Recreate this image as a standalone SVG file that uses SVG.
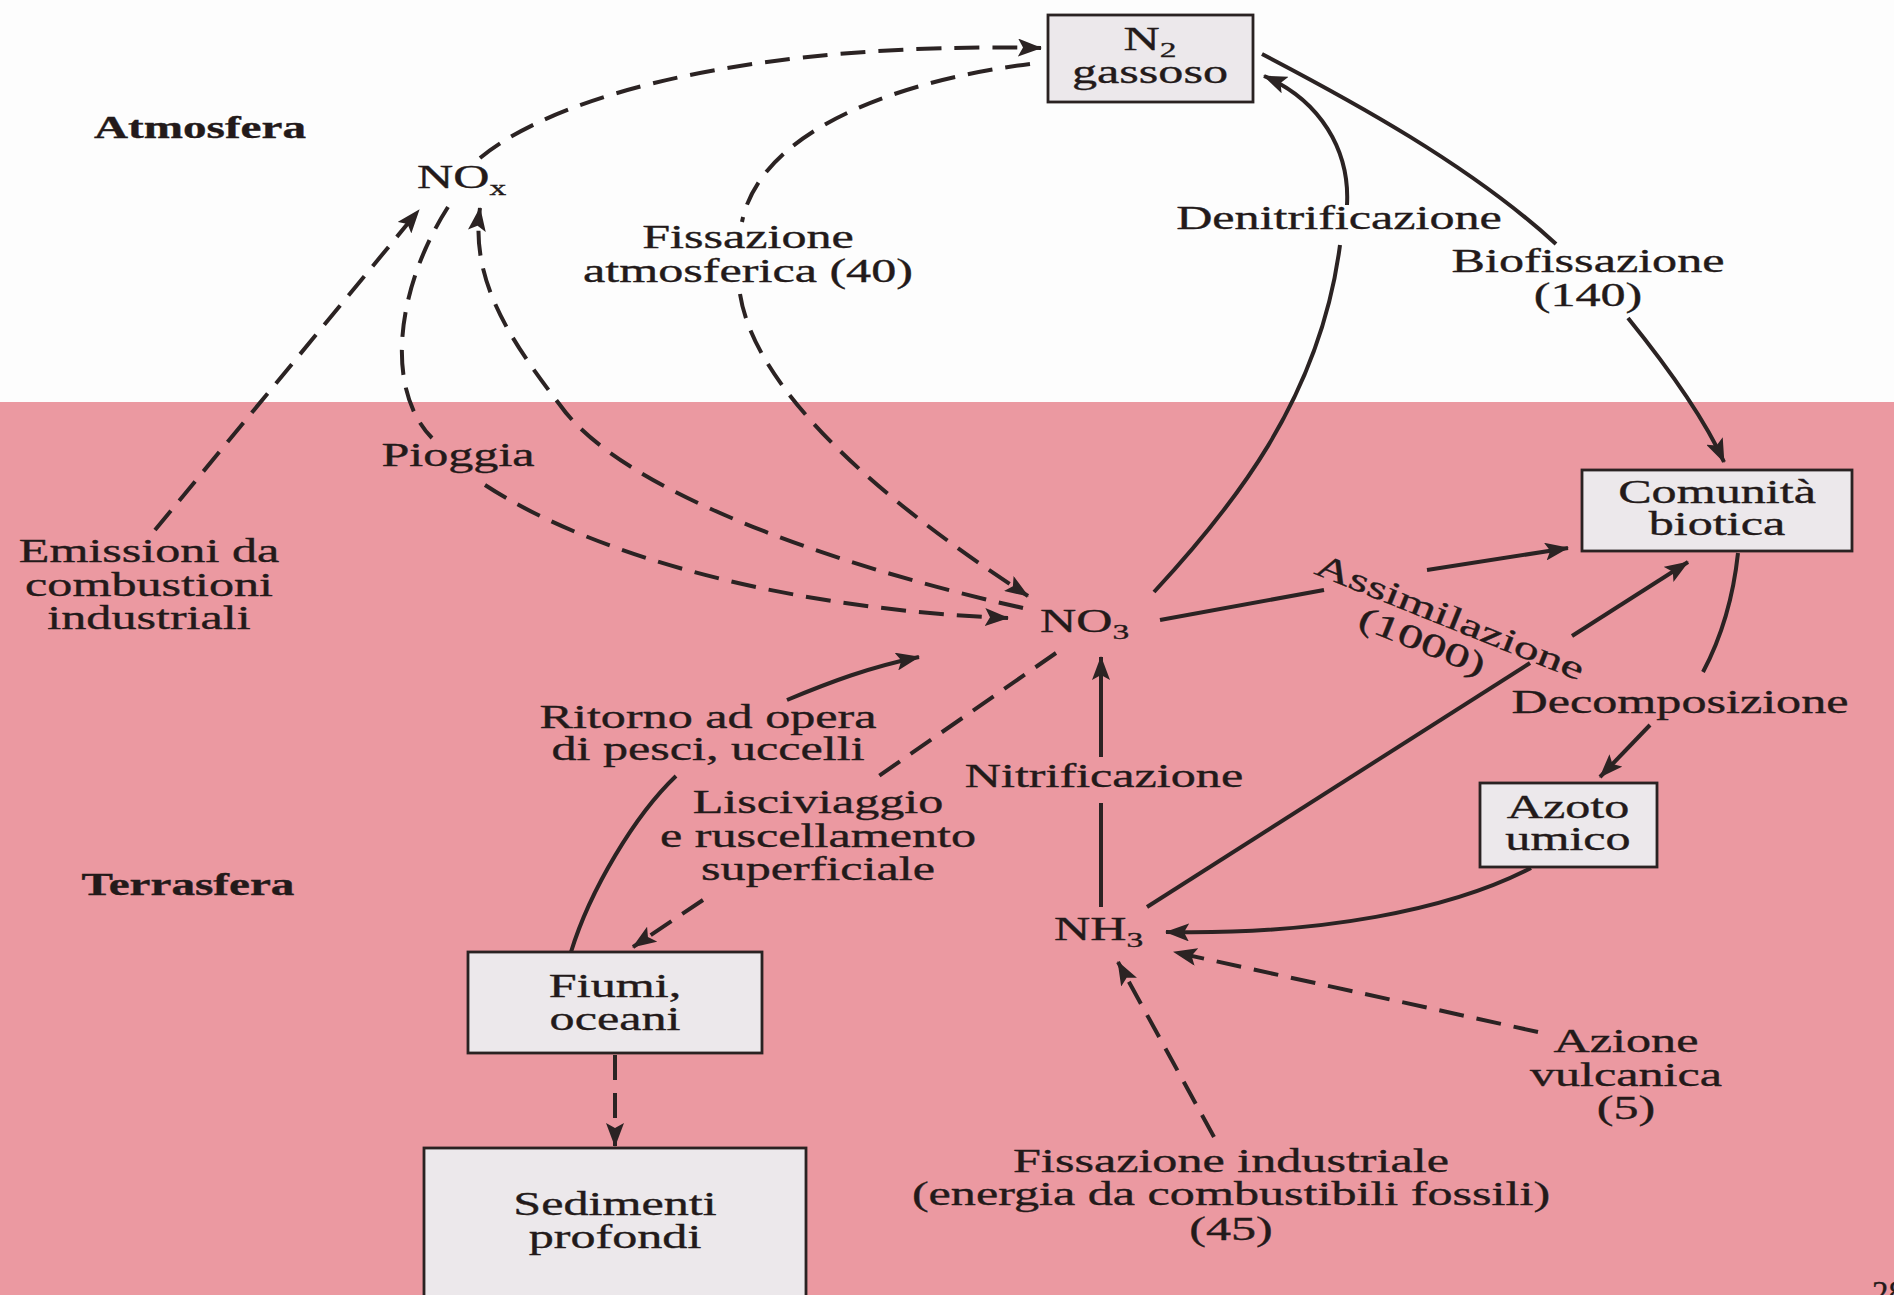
<svg xmlns="http://www.w3.org/2000/svg" width="1894" height="1295" viewBox="0 0 1894 1295">
<style>
.t{font-family:"Liberation Serif","Times New Roman",serif;font-size:33px;fill:#231a1a;stroke:#231a1a;stroke-width:0.35}
.m{text-anchor:middle}
.b{font-weight:bold;font-size:31px}
.s{font-size:22px}
.box{fill:#ece8eb;stroke:#2a2222;stroke-width:2.8}
.c{fill:none;stroke:#2b2323;stroke-width:4}
.d{stroke-dasharray:25 13}
.a{marker-end:url(#ah)}
</style>
<defs>
<marker id="ah" viewBox="0 0 24 18" refX="23" refY="9" markerWidth="24" markerHeight="18" markerUnits="userSpaceOnUse" orient="auto">
<path d="M0,0 L24,9 L0,18 L5,9 z" fill="#2b2323"/>
</marker>
</defs>
<rect width="1894" height="1295" fill="#fdfdfd"/>
<rect y="402" width="1894" height="893" fill="#eb99a1"/>

<g id="connectors">
<path class="c d a" d="M480,158 C560,92 760,42 1041,48"/>
<path class="c d" d="M1030,64 C900,80 760,130 742,222"/>
<path class="c d a" d="M740,294 C755,390 880,500 1028,596"/>
<path class="c d" d="M448,207 C395,290 385,390 432,438"/>
<path class="c d a" d="M485,485 C600,560 800,610 1008,618"/>
<path class="c d a" d="M1023,608 C830,565 620,490 560,405 C510,340 470,280 480,208"/>
<path class="c d a" d="M155,530 L419,210"/>
<path class="c" d="M1154,592 C1230,510 1320,400 1340,245"/>
<path class="c a" d="M1347,205 C1350,150 1320,100 1264,76"/>
<path class="c" d="M1262,54 C1350,100 1470,165 1556,244"/>
<path class="c a" d="M1628,318 C1670,370 1705,420 1724,462"/>
<path class="c" d="M1160,620 L1324,590"/>
<path class="c a" d="M1427,570 L1568,548"/>
<path class="c" d="M1147,907 L1530,663"/>
<path class="c a" d="M1572,636 L1688,562"/>
<path class="c" d="M1738,553 C1733,600 1720,640 1703,672"/>
<path class="c a" d="M1650,725 L1600,777"/>
<path class="c a" d="M1531,868 C1450,910 1320,935 1166,932"/>
<path class="c" d="M1101,907 L1101,803"/>
<path class="c a" d="M1101,757 L1101,657"/>
<path class="c" d="M571,952 C590,890 635,815 676,776"/>
<path class="c a" d="M787,700 C830,682 870,667 919,657"/>
<path class="c d" d="M1056,653 L873,780"/>
<path class="c d a" d="M703,900 L633,947"/>
<path class="c d a" d="M615,1055 L615,1146"/>
<path class="c d a" d="M1538,1032 L1174,952"/>
<path class="c d a" d="M1214,1137 L1118,962"/>
</g>

<g id="region-atmosfera"><text class="t m b" transform="translate(200,138) scale(1.52,1)">Atmosfera</text></g>
<g id="region-terrasfera"><text class="t m b" transform="translate(188,895) scale(1.52,1)">Terrasfera</text></g>

<g id="n2">
<rect class="box" x="1048" y="15" width="205" height="87"/>
<text class="t m" transform="translate(1150,50) scale(1.52,1)"><tspan x="0" y="0">N<tspan class="s" dy="7">2</tspan></tspan><tspan x="0" y="33">gassoso</tspan></text>
</g>
<g id="nox"><text class="t" transform="translate(417,188) scale(1.52,1)">NO<tspan class="s" dy="7">x</tspan></text></g>
<g id="no3"><text class="t" transform="translate(1040,632) scale(1.52,1)">NO<tspan class="s" dy="7">3</tspan></text></g>
<g id="nh3"><text class="t" transform="translate(1054,940) scale(1.52,1)">NH<tspan class="s" dy="7">3</tspan></text></g>
<g id="comunita">
<rect class="box" x="1582" y="470" width="270" height="81"/>
<text class="t m" transform="translate(1717,503) scale(1.52,1)"><tspan x="0" y="0">Comunità</tspan><tspan x="0" y="32">biotica</tspan></text>
</g>
<g id="azoto">
<rect class="box" x="1480" y="783" width="177" height="84"/>
<text class="t m" transform="translate(1568,818) scale(1.52,1)"><tspan x="0" y="0">Azoto</tspan><tspan x="0" y="32">umico</tspan></text>
</g>
<g id="fiumi">
<rect class="box" x="468" y="952" width="294" height="101"/>
<text class="t m" transform="translate(615,997) scale(1.52,1)"><tspan x="0" y="0">Fiumi,</tspan><tspan x="0" y="33">oceani</tspan></text>
</g>
<g id="sedimenti">
<rect class="box" x="424" y="1148" width="382" height="165"/>
<text class="t m" transform="translate(615,1215) scale(1.52,1)"><tspan x="0" y="0">Sedimenti</tspan><tspan x="0" y="33">profondi</tspan></text>
</g>
<g id="emissioni"><text class="t m" transform="translate(149,562) scale(1.52,1)"><tspan x="0" y="0">Emissioni da</tspan><tspan x="0" y="34">combustioni</tspan><tspan x="0" y="67">industriali</tspan></text></g>
<g id="vulcanica"><text class="t m" transform="translate(1626,1052) scale(1.52,1)"><tspan x="0" y="0">Azione</tspan><tspan x="0" y="34">vulcanica</tspan><tspan x="0" y="67">(5)</tspan></text></g>
<g id="industriale"><text class="t m" transform="translate(1231,1172) scale(1.52,1)"><tspan x="0" y="0">Fissazione industriale</tspan><tspan x="0" y="33">(energia da combustibili fossili)</tspan><tspan x="0" y="68">(45)</tspan></text></g>

<g id="labels">
<text class="t m" transform="translate(748,248) scale(1.52,1)"><tspan x="0" y="0">Fissazione</tspan><tspan x="0" y="34">atmosferica (40)</tspan></text>
<text class="t m" transform="translate(1339,229) scale(1.52,1)">Denitrificazione</text>
<text class="t m" transform="translate(1588,272) scale(1.52,1)"><tspan x="0" y="0">Biofissazione</tspan><tspan x="0" y="34">(140)</tspan></text>
<text class="t m" transform="translate(458,466) scale(1.52,1)">Pioggia</text>
<text class="t m" transform="translate(1446,627) rotate(22) scale(1.52,1)"><tspan x="0" y="0">Assimilazione</tspan><tspan x="-11" y="33">(1000)</tspan></text>
<text class="t m" transform="translate(1680,713) scale(1.52,1)">Decomposizione</text>
<text class="t m" transform="translate(1104,787) scale(1.52,1)">Nitrificazione</text>
<text class="t m" transform="translate(708,728) scale(1.52,1)"><tspan x="0" y="0">Ritorno ad opera</tspan><tspan x="0" y="32">di pesci, uccelli</tspan></text>
<text class="t m" transform="translate(818,813) scale(1.52,1)"><tspan x="0" y="0">Lisciviaggio</tspan><tspan x="0" y="34">e ruscellamento</tspan><tspan x="0" y="67">superficiale</tspan></text>
<text class="t" x="1872" y="1304" fill="#555">28</text>
</g>
</svg>
